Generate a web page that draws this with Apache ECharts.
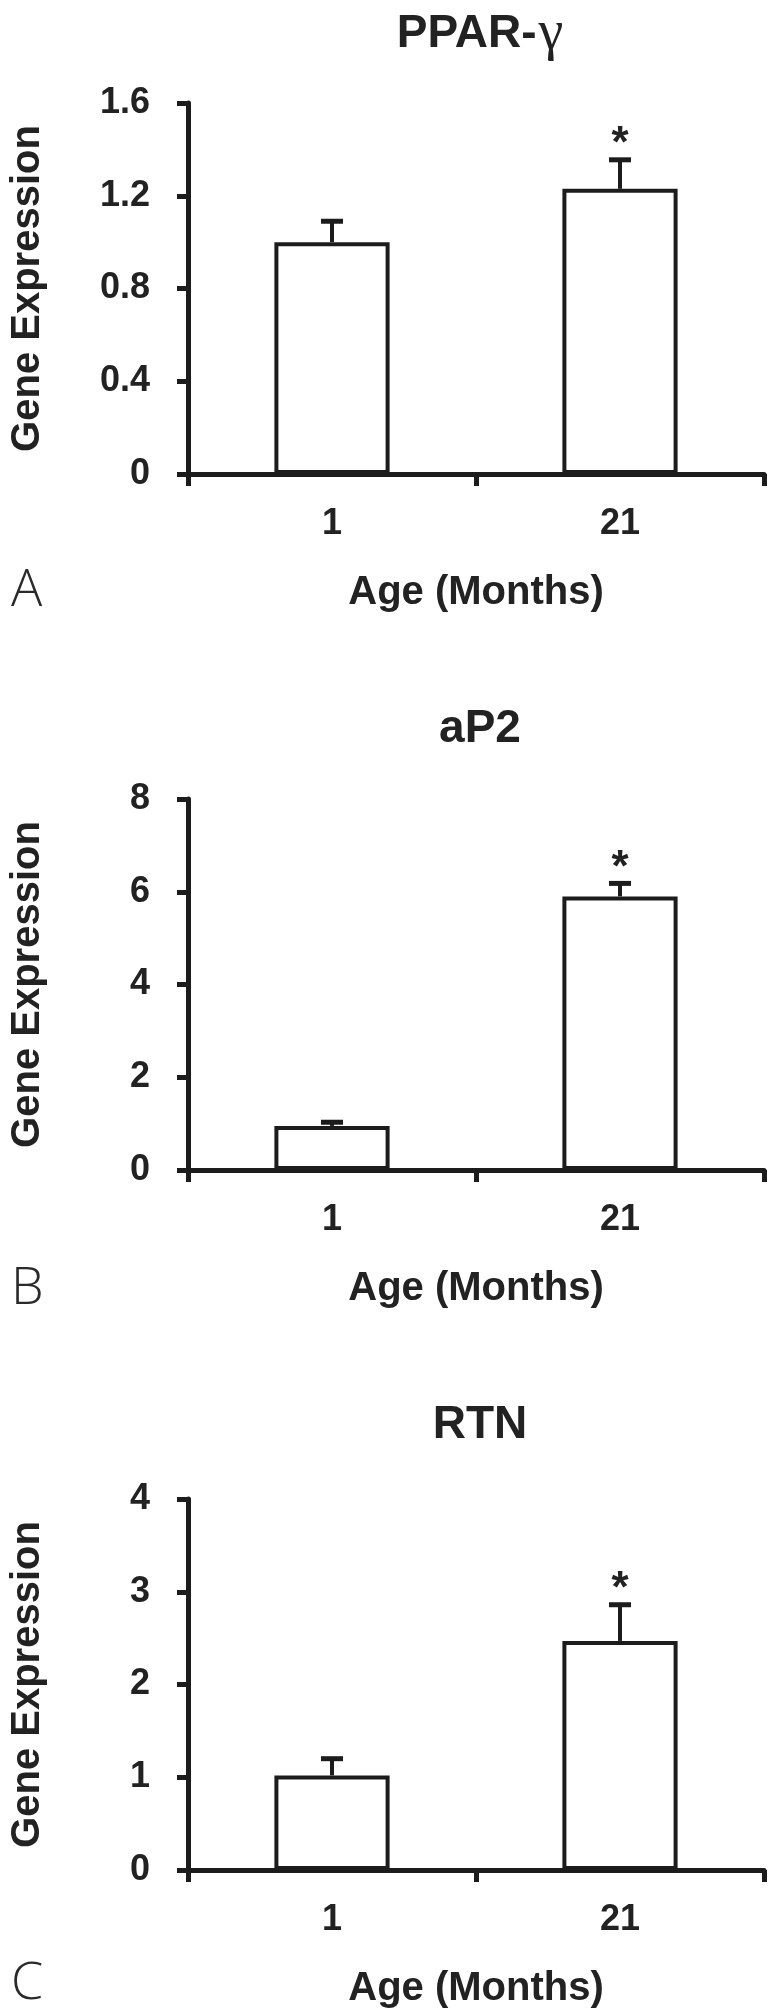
<!DOCTYPE html>
<html>
<head>
<meta charset="utf-8">
<script src="https://cdn.jsdelivr.net/npm/echarts@6.0.0/dist/echarts.min.js"></script>
<style>
html,body{margin:0;padding:0;background:#ffffff;}
#chart{width:771px;height:2013px;}
</style>
</head>
<body>
<div id="chart"></div>
<script>
// ---- data ----
const categories = ['1', '21'];
const titles = ['PPAR-{g|γ}', 'aP2', 'RTN'];
const panelLetters = ['A', 'B', 'C'];
const xAxisName = 'Age (Months)';
const yAxisName = 'Gene Expression';
const pparValues = [1.0, 1.23];
const pparErrors = [0.09, 0.125];
const ap2Values = [0.95, 5.9];
const ap2Errors = [0.08, 0.28];
const rtnValues = [1.02, 2.47];
const rtnErrors = [0.18, 0.39];
const significance = ['', '*'];
const yAxisMax = [1.6, 8, 4];
const yAxisInterval = [0.4, 2, 1];

const panelValues = [pparValues, ap2Values, rtnValues];
const panelErrors = [pparErrors, ap2Errors, rtnErrors];

// ---- layout / style ----
const gridTop = [103, 799, 1499];
const gridHeight = 371;
const titleTop = [1, 701, 1397];
const letterTop = [565, 1263, 1958];
const ink = '#1c1c1c';
const textInk = '#222222';
const fontFam = '"Liberation Sans", Arial, sans-serif';

const chart = echarts.init(document.getElementById('chart'), null, {renderer: 'canvas'});

const grids = [], xAxes = [], yAxes = [], series = [], titleOpts = [], graphics = [];

function errorRenderer() {
  return function (params, api) {
    const idx = params.dataIndex;
    const v = api.value(1);
    const e = api.value(2);
    const base = api.coord([api.value(0), v]);
    const top = api.coord([api.value(0), v + e]);
    const capHalf = 11;
    const children = [
      {type: 'line', shape: {x1: base[0], y1: base[1], x2: top[0], y2: top[1]},
       style: {stroke: ink, lineWidth: 4}},
      {type: 'line', shape: {x1: top[0] - capHalf, y1: top[1], x2: top[0] + capHalf, y2: top[1]},
       style: {stroke: ink, lineWidth: 5}}
    ];
    if (significance[idx]) {
      children.push({type: 'text', x: top[0], y: top[1] - 15,
        style: {text: significance[idx], fill: textInk, font: 'bold 44px ' + fontFam,
                align: 'center', verticalAlign: 'middle'}});
    }
    return {type: 'group', children: children};
  };
}

for (let p = 0; p < 3; p++) {
  grids.push({left: 188, right: 7, top: gridTop[p], height: gridHeight, outerBoundsMode: 'none', containLabel: false});
  xAxes.push({
    type: 'category', gridIndex: p, data: categories,
    axisLine: {show: true, lineStyle: {color: ink, width: 5}},
    axisTick: {show: true, length: 12, alignWithLabel: false, lineStyle: {color: ink, width: 5}},
    axisLabel: {margin: 32, color: textInk, fontSize: 36, fontWeight: 'bold', fontFamily: fontFam},
    splitLine: {show: false},
    name: xAxisName, nameLocation: 'middle', nameGap: 99,
    nameTextStyle: {color: textInk, fontSize: 40, fontWeight: 'bold', fontFamily: fontFam}
  });
  yAxes.push({
    type: 'value', gridIndex: p, min: 0, max: yAxisMax[p], interval: yAxisInterval[p],
    axisLine: {show: true, lineStyle: {color: ink, width: 5}},
    axisTick: {show: true, length: 11, lineStyle: {color: ink, width: 5}},
    axisLabel: {margin: 38, color: textInk, fontSize: 36, fontWeight: 'bold', fontFamily: fontFam},
    splitLine: {show: false},
    name: yAxisName, nameLocation: 'middle', nameGap: 140,
    nameTextStyle: {color: textInk, fontSize: 40, fontWeight: 'bold', fontFamily: fontFam}
  });
  series.push({
    type: 'bar', xAxisIndex: p, yAxisIndex: p, barWidth: '40%',
    data: panelValues[p],
    itemStyle: {color: '#ffffff', borderColor: ink, borderWidth: 4},
    emphasis: {disabled: true}, silent: true, animation: false
  });
  series.push({
    type: 'custom', xAxisIndex: p, yAxisIndex: p, clip: false,
    data: categories.map((c, i) => [i, panelValues[p][i], panelErrors[p][i]]),
    renderItem: errorRenderer(),
    encode: {x: 0, y: 1}, silent: true, animation: false, z: 5
  });
  titleOpts.push({
    text: titles[p], left: 475, top: titleTop[p], textAlign: 'center',
    textStyle: {color: textInk, fontSize: 46, fontWeight: 'bold', fontFamily: fontFam,
      rich: {g: {color: textInk, fontSize: 56, fontWeight: 'normal',
                 fontFamily: '"Liberation Serif", "DejaVu Serif", serif', padding: [0, 0, 0, 2]}}}
  });
  graphics.push({
    type: 'text', left: 11, top: letterTop[p],
    style: {text: panelLetters[p], fill: '#2a2a2a', font: '300 52px "Open Sans", "Liberation Sans", sans-serif'}
  });
}

chart.setOption({
  animation: false,
  backgroundColor: '#ffffff',
  title: titleOpts,
  grid: grids,
  xAxis: xAxes,
  yAxis: yAxes,
  series: series,
  graphic: graphics
});
</script>
</body>
</html>
